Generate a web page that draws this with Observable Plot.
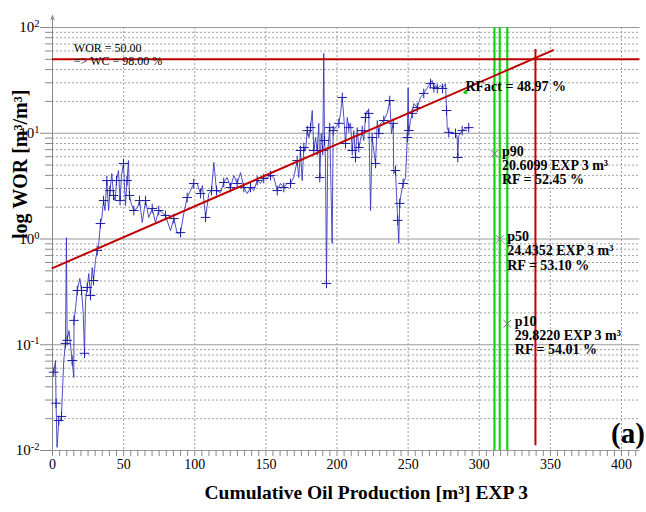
<!DOCTYPE html>
<html><head><meta charset="utf-8">
<script src="https://cdn.jsdelivr.net/npm/d3@7"></script>
<script src="https://cdn.jsdelivr.net/npm/@observablehq/plot@0.6"></script>
<style>
body{margin:0;background:#fff;}
#wrap{position:relative;width:646px;height:512px;overflow:hidden;background:#fff;}
#tag{position:absolute;left:611px;top:419px;font:bold 29px "Liberation Serif",serif;line-height:1;color:#000;}
#wrap svg [aria-label="x-axis tick"] path,#wrap svg [aria-label="y-axis tick"] path{stroke:#8a8a8a;}
</style></head><body><div id="wrap"><div id="tag">(a)</div></div>
<script>
// Cumulative oil production [m³] EXP 3
const cumOil = [0.9,2.1,2.5,3.2,4.4,5.6,6.3,7.9,9.1,9.8,
10.3,11.6,13.8,15.0,15.1,16.2,17.4,19.2,20.4,21.6,
22.5,23.2,24.4,25.5,26.7,27.9,28.8,30.2,31.4,32.3,
33.7,34.7,35.9,36.9,38.2,39.4,40.4,41.7,42.9,44.1,
45.0,46.4,47.5,48.5,49.9,51.3,52.4,53.4,54.1,55.3,
57.2,59.8,61.2,63.1,65.4,67.7,70.1,72.4,74.7,77.1,
79.4,83.0,85.3,87.7,90.0,92.3,94.7,97.0,99.3,101.7,
104.0,105.4,107.6,109.9,111.8,113.4,115.3,118.1,120.4,122.8,
125.1,127.5,129.8,132.2,134.5,136.9,139.2,141.5,143.9,146.2,
148.5,150.9,153.3,155.6,158.0,160.3,162.6,165.0,167.3,169.6,
172.0,173.1,174.3,175.5,176.7,177.9,179.1,180.3,181.4,182.6,
183.7,184.9,186.1,187.2,187.9,188.9,190.0,190.7,191.2,191.9,
192.6,193.5,194.9,196.6,197.3,198.9,201.3,202.5,203.7,204.8,
206.0,207.2,208.3,209.5,210.7,211.8,213.0,214.2,215.3,216.5,
217.7,218.8,220.0,221.2,222.3,223.6,224.7,225.9,227.1,228.3,
229.4,230.6,232.9,235.3,237.1,238.3,239.5,239.9,241.1,241.8,
242.7,243.4,244.1,245.1,246.5,248.2,249.4,250.0,250.5,251.7,
252.9,254.0,256.4,258.7,261.0,263.4,265.7,266.9,268.1,269.3,
270.5,272.8,274.2,276.3,277.0,277.5,278.6,281.0,283.3,284.5,
284.9,285.6,288.0,290.3,292.6];
// Water-oil ratio [m³/m³]
const wor = [0.055,0.071,0.028,0.0107,0.0192,0.0192,0.021,0.071,0.103,1.03,
0.110,0.136,0.071,0.049,0.170,0.220,0.326,0.423,0.326,0.198,
0.083,0.262,0.348,0.472,0.292,0.537,0.405,0.626,0.78,0.83,
1.40,1.60,2.31,1.86,3.57,1.86,2.87,4.16,2.58,2.31,
3.57,4.44,2.31,3.98,5.18,2.07,3.57,5.52,2.58,2.17,
1.86,1.98,2.31,1.43,2.31,1.60,1.94,1.43,1.86,1.78,
1.67,1.20,1.56,1.13,1.15,1.74,2.47,2.87,3.35,3.35,
2.69,3.21,1.60,2.69,2.87,5.29,2.87,2.75,3.42,3.81,
3.07,3.98,3.35,4.25,3.07,2.69,3.07,2.87,3.57,3.35,
3.73,3.81,3.98,3.81,2.87,3.35,3.07,3.35,3.35,3.81,
5.52,3.81,6.87,3.57,7.33,6.87,10.6,9.12,11.3,16.4,
6.87,9.12,6.87,12.4,3.81,9.95,6.87,56.8,8.54,5.90,
0.38,6.87,11.3,0.91,10.6,11.3,12.4,15.4,21.8,14.1,
8.0,14.1,11.3,12.4,6.87,10.6,5.90,11.3,7.33,8.54,
10.6,8.54,14.1,16.4,15.4,1.86,9.12,6.87,5.18,13.2,
9.95,12.4,13.2,15.4,20.4,9.95,12.4,4.16,4.44,2.69,
1.50,0.91,2.17,2.69,3.35,3.81,9.12,26.9,10.6,13.2,
15.4,19.1,17.5,21.8,23.8,26.9,29.5,31.5,26.9,28.3,
26.5,28.3,26.5,29.5,16.4,11.3,10.2,9.95,9.95,9.12,
5.90,9.52,10.6,11.1,11.3];

// Trend line (two end points)
const trendX = [0, 352];
const trendWOR = [0.53, 61];
// WOR limit
const worLimit = 50;
const worLimitText = ["WOR = 50.00", "=> WC = 98.00 %"];
const worLimitTextX = 15;
// Cut-off vertical
const cutoffX = 339.5;
const cutoffWOR = [0.0111, 62];
// Actual recovery factor
const rfActX = 290.3, rfActWOR = 24.4, rfActText = "RFact = 48.97 %";
// Probabilistic estimates
const pNames = ["p90", "p50", "p10"];
const pX = [310.7, 314.4, 319.7];
const pWOR = [6.4, 1.0, 0.158];
const pVolume = ["20.6099 EXP 3 m³", "24.4352 EXP 3 m³", "29.8220 EXP 3 m³"];
const pRF = ["RF = 52.45 %", "RF = 53.10 %", "RF = 54.01 %"];
// Axes
const xDomain = [0, 413];
const xLabelTicks = [0, 50, 100, 150, 200, 250, 300, 350, 400];
const xMinorStep = 5;
const yDecades = [0.01, 0.1, 1, 10, 100];
const yExponents = ["-2", "-1", "0", "1", "2"];
const yArrowTop = 130;
const xTitle = "Cumulative Oil Production [m³] EXP 3";
const yTitle = "log WOR [m³/m³]";

const series = cumOil.map((x, i) => ({x, y: wor[i], i}));
const trend = trendX.map((x, i) => ({x, y: trendWOR[i]}));
const pts = pNames.map((n, i) => ({x: pX[i], y: pWOR[i], label: n + "\n" + pVolume[i] + "\n" + pRF[i]}));
const minorY = [];
yDecades.slice(0, -1).forEach(d => { for (let k = 2; k <= 9; k++) minorY.push(d * k); });
const minorX = d3.range(xDomain[0], xDomain[1] + 0.1, xMinorStep);
const serif = '"Liberation Serif", "Times New Roman", serif';

const chart = Plot.plot({
  width: 646, height: 512,
  marginLeft: 52, marginRight: 6.5, marginTop: 27, marginBottom: 62,
  style: {fontFamily: serif, background: "#fff", color: "#000", overflow: "visible"},
  x: {domain: xDomain},
  y: {type: "log", domain: [yDecades[0], yDecades[yDecades.length - 1]]},
  marks: [
    Plot.ruleY(minorY, {stroke: "#a0a0a0", strokeWidth: 1, strokeDasharray: "2,2"}),
    Plot.ruleX(xLabelTicks.slice(1), {stroke: "#a0a0a0", strokeWidth: 1, strokeDasharray: "2,2"}),
    Plot.ruleY(yDecades, {stroke: "#9a9a9a", strokeWidth: 1}),
    Plot.axisY({ticks: minorY, tickSize: 7, tickFormat: () => "", label: null}),
    Plot.axisY({ticks: yDecades, tickSize: 12, tickPadding: 1, fontSize: 15,
      tickFormat: d => "10^" + yExponents[yDecades.indexOf(d)], label: null}),
    Plot.axisX({ticks: minorX, tickSize: 6, tickPadding: 3, fontSize: 14,
      tickFormat: d => xLabelTicks.includes(d) ? String(d) : "", label: null}),
    Plot.arrow([{x: 0}], {x1: "x", x2: "x", y1: () => yDecades[0], y2: () => yArrowTop,
      stroke: "#8a8a8a", strokeWidth: 1, headLength: 7, headAngle: 40}),
    Plot.ruleX(pX, {stroke: "#11d411", strokeWidth: 2.2}),
    Plot.line(series, {x: "x", y: "y", stroke: "#3030b8", strokeWidth: 1, strokeOpacity: 0.85}),
    Plot.dot(series.filter(d => d.i % 2 === 0), {x: "x", y: "y", symbol: "plus", r: 3.2, stroke: "#1c1ca8", strokeWidth: 1}),
    Plot.ruleY([worLimit], {stroke: "#c00000", strokeWidth: 2}),
    Plot.line(trend, {x: "x", y: "y", stroke: "#c00000", strokeWidth: 2}),
    Plot.ruleX([cutoffX], {y1: cutoffWOR[0], y2: cutoffWOR[1], stroke: "#c00000", strokeWidth: 2}),
    Plot.dot(pts, {x: "x", y: "y", symbol: "times", r: 3.5, stroke: "#777", strokeWidth: 1}),
    Plot.text(pts, {x: "x", y: "y", text: "label", textAnchor: "start", lineAnchor: "top",
      dx: 7.5, dy: -8, fontSize: 14, fontWeight: "bold", lineHeight: 1.02, fill: "#000"}),
    Plot.dot([{x: rfActX, y: rfActWOR}], {x: "x", y: "y", r: 2, fill: "#22cc22"}),
    Plot.text([{x: rfActX, y: rfActWOR}], {x: "x", y: "y", text: () => rfActText, textAnchor: "start",
      lineAnchor: "bottom", dy: -1.5, fontSize: 14, fontWeight: "bold", fill: "#000"}),
    Plot.text([{x: worLimitTextX, y: worLimit}], {x: "x", y: "y", text: () => worLimitText.join("\n"),
      textAnchor: "start", lineAnchor: "middle", dy: -5, fontSize: 12, lineHeight: 1.05, fill: "#000"}),
    Plot.text([xTitle], {frameAnchor: "bottom", dx: 20, dy: 48, fontSize: 19.5, fontWeight: "bold", fill: "#000"}),
    Plot.text([yTitle], {frameAnchor: "left", rotate: -90, dx: -32, fontSize: 20, fontWeight: "bold", fill: "#000"})
  ]
});

// superscript exponents on the y tick labels
chart.querySelectorAll('[aria-label="y-axis tick label"] text').forEach(t => {
  const s = t.textContent;
  if (!s.startsWith("10^")) return;
  const e = s.slice(3);
  t.textContent = "";
  const ns = "http://www.w3.org/2000/svg";
  const a = document.createElementNS(ns, "tspan"); a.textContent = "10";
  const b = document.createElementNS(ns, "tspan"); b.textContent = e;
  b.setAttribute("dy", "-0.5em"); b.setAttribute("font-size", "0.7em");
  t.appendChild(a); t.appendChild(b);
});
document.getElementById("wrap").prepend(chart);
</script>
</body></html>
